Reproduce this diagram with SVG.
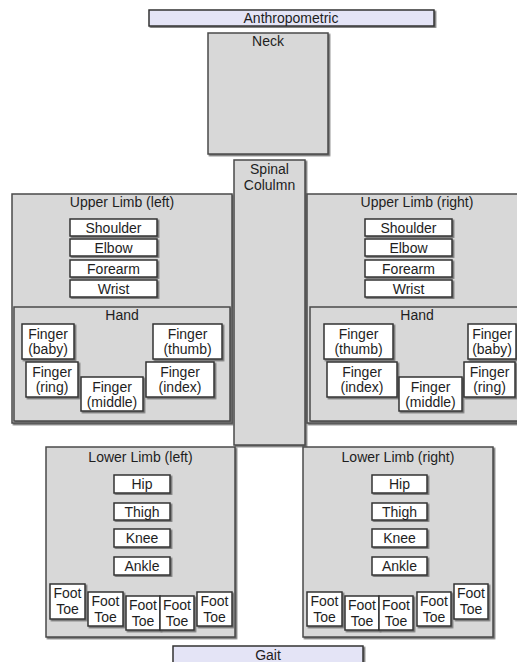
<svg xmlns="http://www.w3.org/2000/svg" width="517" height="662" viewBox="0 0 517 662">
<defs>
<filter id="sh" x="-5%" y="-5%" width="115%" height="115%">
<feDropShadow dx="1.5" dy="1.5" stdDeviation="0.4" flood-color="#666" flood-opacity="0.9"/>
</filter>
</defs>
<style>
.g{fill:#d8d8d8;stroke:#4a4a4a;stroke-width:1.5;filter:url(#sh)}
.w{fill:#ffffff;stroke:#333;stroke-width:1.5;filter:url(#sh)}
.l{fill:#e4e4f6;stroke:#333;stroke-width:1.5;filter:url(#sh)}
text{font-family:"Liberation Sans",Arial,Helvetica,sans-serif;font-size:14px;fill:#1e1e1e;text-anchor:middle}
</style>
<rect width="517" height="662" fill="#ffffff"/>
<g id="anthropometric"><rect class="l" x="149" y="10" width="285" height="16"/><text x="291" y="23">Anthropometric</text></g>
<g id="neck"><rect class="g" x="208" y="33" width="120" height="121"/><text x="268" y="46">Neck</text></g>
<g id="spinal-column"><rect class="g" x="234" y="160" width="71" height="285"/><text x="269.5" y="174">Spinal</text><text x="269.5" y="190">Colulmn</text></g>

<g id="upper-limb-left">
<rect class="g" x="12" y="194" width="220" height="229"/><text x="122" y="207">Upper Limb (left)</text>
<g id="shoulder-left"><rect class="w" x="70" y="219" width="87" height="17"/><text x="113.5" y="233">Shoulder</text></g>
<g id="elbow-left"><rect class="w" x="70" y="239" width="87" height="17"/><text x="113.5" y="253">Elbow</text></g>
<g id="forearm-left"><rect class="w" x="70" y="260" width="87" height="17"/><text x="113.5" y="274">Forearm</text></g>
<g id="wrist-left"><rect class="w" x="70" y="280" width="87" height="17"/><text x="113.5" y="294">Wrist</text></g>
<g id="hand-left">
<rect class="g" x="14" y="307" width="216" height="114"/><text x="122" y="320">Hand</text>
<g id="finger-baby-left"><rect class="w" x="22" y="324" width="52" height="35"/><text x="48" y="339">Finger</text><text x="48" y="354">(baby)</text></g>
<g id="finger-thumb-left"><rect class="w" x="153" y="324" width="69" height="35"/><text x="187.5" y="339">Finger</text><text x="187.5" y="354">(thumb)</text></g>
<g id="finger-ring-left"><rect class="w" x="26" y="362" width="52" height="35"/><text x="52" y="377">Finger</text><text x="52" y="392">(ring)</text></g>
<g id="finger-middle-left"><rect class="w" x="81" y="377" width="62" height="34"/><text x="112" y="392">Finger</text><text x="112" y="407">(middle)</text></g>
<g id="finger-index-left"><rect class="w" x="146" y="362" width="68" height="35"/><text x="180" y="377">Finger</text><text x="180" y="392">(index)</text></g>
</g>
</g>

<g id="upper-limb-right">
<rect class="g" x="307" y="194" width="220" height="229"/><text x="417" y="207">Upper Limb (right)</text>
<g id="shoulder-right"><rect class="w" x="365" y="219" width="87" height="17"/><text x="408.5" y="233">Shoulder</text></g>
<g id="elbow-right"><rect class="w" x="365" y="239" width="87" height="17"/><text x="408.5" y="253">Elbow</text></g>
<g id="forearm-right"><rect class="w" x="365" y="260" width="87" height="17"/><text x="408.5" y="274">Forearm</text></g>
<g id="wrist-right"><rect class="w" x="365" y="280" width="87" height="17"/><text x="408.5" y="294">Wrist</text></g>
<g id="hand-right">
<rect class="g" x="310" y="307" width="216" height="114"/><text x="417" y="320">Hand</text>
<g id="finger-thumb-right"><rect class="w" x="324" y="324" width="69" height="35"/><text x="358.5" y="339">Finger</text><text x="358.5" y="354">(thumb)</text></g>
<g id="finger-baby-right"><rect class="w" x="468" y="324" width="48" height="35"/><text x="492" y="339">Finger</text><text x="492" y="354">(baby)</text></g>
<g id="finger-index-right"><rect class="w" x="327" y="362" width="70" height="35"/><text x="362" y="377">Finger</text><text x="362" y="392">(index)</text></g>
<g id="finger-middle-right"><rect class="w" x="399" y="377" width="63" height="34"/><text x="430.5" y="392">Finger</text><text x="430.5" y="407">(middle)</text></g>
<g id="finger-ring-right"><rect class="w" x="464" y="362" width="51" height="35"/><text x="489.5" y="377">Finger</text><text x="489.5" y="392">(ring)</text></g>
</g>
</g>

<g id="lower-limb-left">
<rect class="g" x="46" y="447" width="189" height="190"/><text x="140.5" y="462">Lower Limb (left)</text>
<g id="hip-left"><rect class="w" x="114" y="475" width="56" height="18"/><text x="142" y="489">Hip</text></g>
<g id="thigh-left"><rect class="w" x="114" y="503" width="56" height="17"/><text x="142" y="517">Thigh</text></g>
<g id="knee-left"><rect class="w" x="114" y="529" width="56" height="18"/><text x="142" y="543">Knee</text></g>
<g id="ankle-left"><rect class="w" x="114" y="557" width="56" height="18"/><text x="142" y="571">Ankle</text></g>
<g id="foot-toe-left-1"><rect class="w" x="50" y="584" width="35" height="35"/><text x="67.5" y="598">Foot</text><text x="67.5" y="614">Toe</text></g>
<g id="foot-toe-left-2"><rect class="w" x="88" y="592" width="35" height="34"/><text x="105.5" y="606">Foot</text><text x="105.5" y="622">Toe</text></g>
<g id="foot-toe-left-3"><rect class="w" x="126" y="596" width="34" height="34"/><text x="143" y="610">Foot</text><text x="143" y="626">Toe</text></g>
<g id="foot-toe-left-4"><rect class="w" x="160" y="596" width="34" height="34"/><text x="177" y="610">Foot</text><text x="177" y="626">Toe</text></g>
<g id="foot-toe-left-5"><rect class="w" x="197" y="592" width="35" height="34"/><text x="214.5" y="606">Foot</text><text x="214.5" y="622">Toe</text></g>
</g>

<g id="lower-limb-right">
<rect class="g" x="303" y="447" width="190" height="190"/><text x="398" y="462">Lower Limb (right)</text>
<g id="hip-right"><rect class="w" x="372" y="475" width="55" height="18"/><text x="399.5" y="489">Hip</text></g>
<g id="thigh-right"><rect class="w" x="372" y="503" width="55" height="17"/><text x="399.5" y="517">Thigh</text></g>
<g id="knee-right"><rect class="w" x="372" y="529" width="55" height="18"/><text x="399.5" y="543">Knee</text></g>
<g id="ankle-right"><rect class="w" x="372" y="557" width="55" height="18"/><text x="399.5" y="571">Ankle</text></g>
<g id="foot-toe-right-1"><rect class="w" x="307" y="592" width="35" height="34"/><text x="324.5" y="606">Foot</text><text x="324.5" y="622">Toe</text></g>
<g id="foot-toe-right-2"><rect class="w" x="345" y="596" width="34" height="34"/><text x="362" y="610">Foot</text><text x="362" y="626">Toe</text></g>
<g id="foot-toe-right-3"><rect class="w" x="379" y="596" width="34" height="34"/><text x="396" y="610">Foot</text><text x="396" y="626">Toe</text></g>
<g id="foot-toe-right-4"><rect class="w" x="417" y="592" width="34" height="34"/><text x="434" y="606">Foot</text><text x="434" y="622">Toe</text></g>
<g id="foot-toe-right-5"><rect class="w" x="454" y="584" width="34" height="35"/><text x="471" y="598">Foot</text><text x="471" y="614">Toe</text></g>
</g>

<g id="gait"><rect class="l" x="173" y="646" width="190" height="26"/><text x="268" y="660">Gait</text></g>
<g id="connectors"></g>
</svg>
